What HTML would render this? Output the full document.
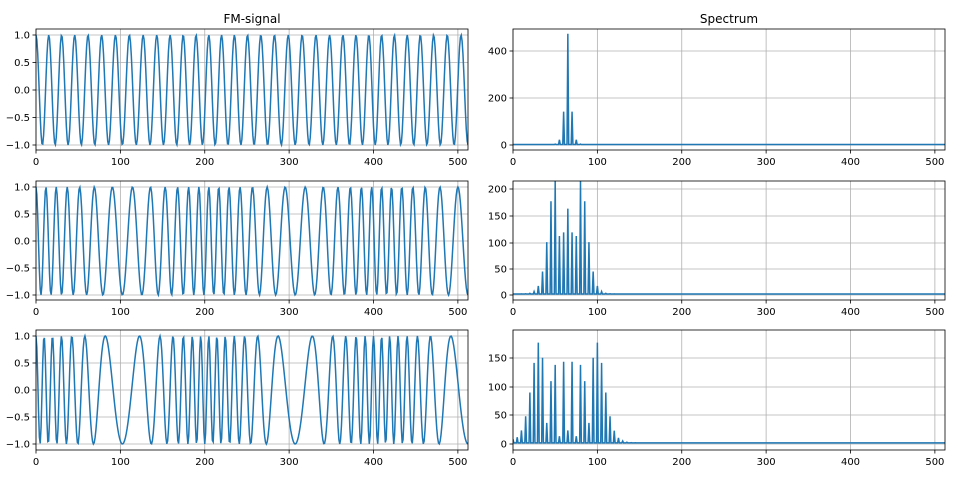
<!DOCTYPE html>
<html><head><meta charset="utf-8"><style>
body{margin:0;background:#fff;}
svg{display:block;font-family:"DejaVu Sans","Liberation Sans",sans-serif;}
</style></head><body>
<svg id="s" width="960" height="480" xmlns="http://www.w3.org/2000/svg"></svg>
<script>
const S=document.getElementById('s');
let h='';
const N=1024,fm=5,f0=65;
const betas=[0.57,4.5,8.5];
const rowsL=[[29,150,35,145],[181,300,187,295],[330,450,336,444]];
const rowsR=[
 {t:29,b:150,ticks:[[0,145],[200,98],[400,51]]},
 {t:181,b:300,ticks:[[0,295],[50,269],[100,243],[150,216],[200,189]]},
 {t:330,b:450,ticks:[[0,444],[50,415],[100,387],[150,358]]}];
function axes(x0,x1,t,b,yt,ytLab){
 let o='';
 for(let v=0;v<=500;v+=100){const x=x0+(x1-x0)*v/512;o+=`<line x1="${x}" y1="${t}" x2="${x}" y2="${b}" stroke="#b0b0b0" stroke-width="0.8"/>`;
  o+=`<line x1="${x}" y1="${b}" x2="${x}" y2="${b+3.5}" stroke="#000" stroke-width="0.8"/><text x="${x}" y="${b+15}" font-size="10" text-anchor="middle">${v}</text>`;}
 yt.forEach(([v,y])=>{o+=`<line x1="${x0}" y1="${y}" x2="${x1}" y2="${y}" stroke="#b0b0b0" stroke-width="0.8"/><line x1="${x0-3.5}" y1="${y}" x2="${x0}" y2="${y}" stroke="#000" stroke-width="0.8"/><text x="${x0-6}" y="${y+3.5}" font-size="10" text-anchor="end">${ytLab(v)}</text>`;});
 return o;
}
function frame(x0,x1,t,b){return `<rect x="${x0}" y="${t}" width="${x1-x0}" height="${b-t}" fill="none" stroke="#000" stroke-width="0.8"/>`;}
betas.forEach((be,i)=>{
 const sig=[];for(let n=0;n<N;n++)sig.push(Math.cos(2*Math.PI*f0*n/N+be*Math.sin(2*Math.PI*fm*n/N)));
 const [t,b,y1,ym1]=rowsL[i];const x0=36,x1=468;
 const lt=[];for(let k=0;k<5;k++){const v=1-0.5*k;lt.push([v,y1+(ym1-y1)*k/4]);}
 h+=axes(x0,x1,t,b,lt,v=>v.toFixed(1).replace('-','−'));
 let p='';for(let n=0;n<=512;n++){const x=x0+(x1-x0)*n/512;const y=(y1+ym1)/2-sig[n]*(ym1-y1)/2;p+=x.toFixed(2)+','+y.toFixed(2)+' ';}
 h+=`<clipPath id="cl${i}"><rect x="${x0}" y="${t}" width="${x1-x0}" height="${b-t}"/></clipPath><polyline clip-path="url(#cl${i})" points="${p}" fill="none" stroke="#1f77b4" stroke-width="1.5"/>`;
 h+=frame(x0,x1,t,b);
 const R=rowsR[i];const a=513,c=945;
 h+=axes(a,c,R.t,R.b,R.ticks,v=>v);
 const y0=R.ticks[0][1],sc=(R.ticks[1][1]-y0)/R.ticks[1][0];
 let q='';
 for(let k=0;k<=512;k++){let re=0,im=0;for(let n=0;n<N;n++){const ph=2*Math.PI*k*n/N;re+=sig[n]*Math.cos(ph);im-=sig[n]*Math.sin(ph);}
  const m=Math.hypot(re,im)+2;const x=a+(c-a)*k/512;q+=x.toFixed(2)+','+(y0+m*sc).toFixed(2)+' ';}
 h+=`<clipPath id="cr${i}"><rect x="${a}" y="${R.t}" width="${c-a}" height="${R.b-R.t}"/></clipPath><polyline clip-path="url(#cr${i})" points="${q}" fill="none" stroke="#1f77b4" stroke-width="1.5"/>`;
 h+=frame(a,c,R.t,R.b);
});
h+=`<text x="252" y="23" font-size="12" text-anchor="middle">FM-signal</text><text x="729" y="23" font-size="12" text-anchor="middle">Spectrum</text>`;
S.innerHTML=h;
</script>
</body></html>
